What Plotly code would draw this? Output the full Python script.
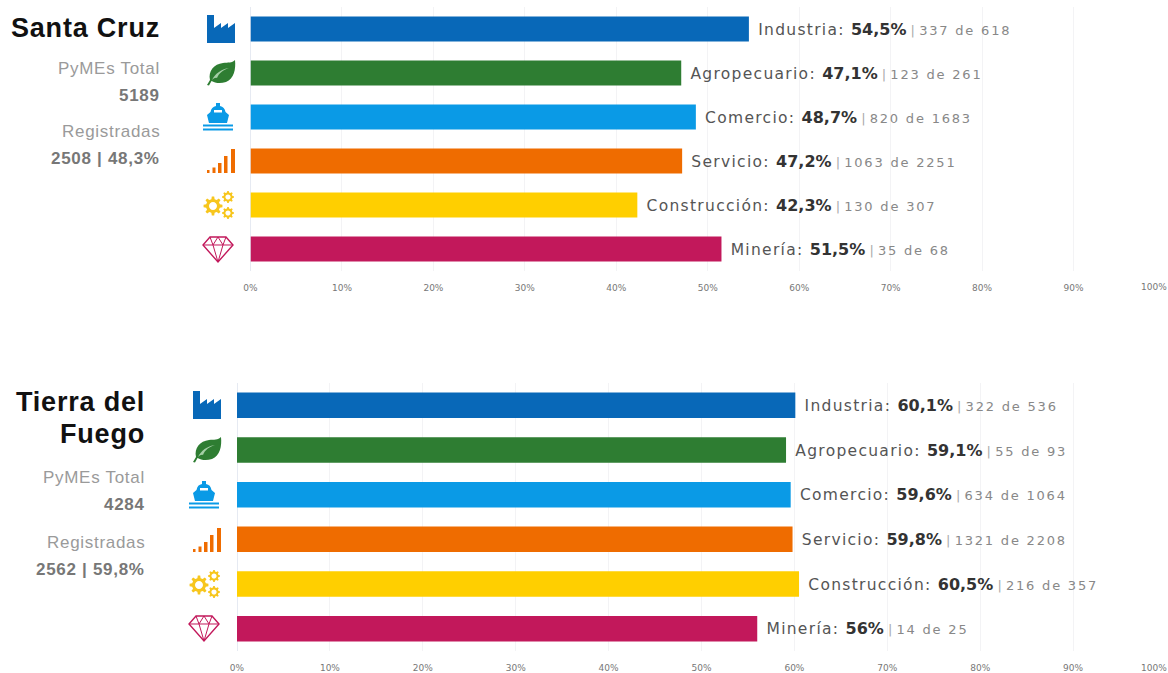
import re, math
import plotly.graph_objects as go

W, H = 1168, 673

categories = ["Industria", "Agropecuario", "Comercio", "Servicio", "Construcción", "Minería"]
colors = ["#0868B8", "#2E7D32", "#0A9AE6", "#EF6C00", "#FFCF00", "#C2185B"]
tick_values = [0, 10, 20, 30, 40, 50, 60, 70, 80, 90]
tick_labels = ["0%", "10%", "20%", "30%", "40%", "50%", "60%", "70%", "80%", "90%"]
last_tick_label = "100%"

sc_pct = [54.5, 47.1, 48.7, 47.2, 42.3, 51.5]
sc_pct_labels = ["54,5%", "47,1%", "48,7%", "47,2%", "42,3%", "51,5%"]
sc_registered = [337, 123, 820, 1063, 130, 35]
sc_total = [618, 261, 1683, 2251, 307, 68]

tf_pct = [60.1, 59.1, 59.6, 59.8, 60.5, 56]
tf_pct_labels = ["60,1%", "59,1%", "59,6%", "59,8%", "60,5%", "56%"]
tf_registered = [322, 55, 634, 1321, 216, 14]
tf_total = [536, 93, 1064, 2208, 357, 25]

def px(x): return x / W
def py(y): return 1 - y / H

def bar_text(name, pct, a, b):
    return (f"<span style='color:#555555;font-size:15.5px;letter-spacing:1.3px'> {name}: </span>"
            f"<b style='color:#333333;font-size:16px'>{pct}</b>"
            f"<span style='color:#aaaaaa;font-size:13px'> | </span>"
            f"<span style='color:#888888;font-size:13px;letter-spacing:1.8px'>{a} de {b}</span>")

fig = go.Figure()
panels = [
    dict(ax="", pct=sc_pct, lab=sc_pct_labels, a=sc_registered, b=sc_total,
         x0=250.5, x1=1165, y0=7, y1=271),
    dict(ax="2", pct=tf_pct, lab=tf_pct_labels, a=tf_registered, b=tf_total,
         x0=237, x1=1166, y0=383, y1=651),
]
for p in panels:
    fig.add_trace(go.Bar(
        x=p["pct"], y=categories, orientation="h",
        marker=dict(color=colors, line=dict(width=0)),
        text=[bar_text(c, l, a, b) for c, l, a, b in zip(categories, p["lab"], p["a"], p["b"])],
        textposition="outside", cliponaxis=False,
        textfont=dict(family="DejaVu Sans", size=15),
        xaxis="x" + p["ax"], yaxis="y" + p["ax"], showlegend=False, hoverinfo="skip",
    ))

axis_common = dict(
    range=[0, 100], tickmode="array", tickvals=tick_values + [100],
    ticktext=tick_labels + [" "],
    tickfont=dict(family="DejaVu Sans", size=9, color="#777777"),
    showgrid=True, gridcolor="#F3F3F5", gridwidth=1,
    zeroline=True, zerolinecolor="#E6EAF2", zerolinewidth=1,
    showline=False, ticks="", ticklabelstandoff=10, automargin=False,
)
y_common = dict(
    autorange="reversed", showticklabels=False, showgrid=False, zeroline=False,
    showline=False, ticks="", automargin=False,
)
layout = dict(
    width=W, height=H, margin=dict(l=0, r=0, t=0, b=0, pad=0, autoexpand=False),
    paper_bgcolor="white", plot_bgcolor="white", bargap=0.43,
    font=dict(family="DejaVu Sans"),
)
for p in panels:
    layout["xaxis" + p["ax"]] = dict(axis_common, domain=[px(p["x0"]), px(p["x1"])],
                                     anchor="y" + p["ax"])
    layout["yaxis" + p["ax"]] = dict(y_common, domain=[py(p["y1"]), py(p["y0"])],
                                     anchor="x" + p["ax"])
fig.update_layout(**layout)

def note(text, x, y, size, color, bold=False, family="Liberation Sans", spacing=0.7):
    body = f"<b>{text}</b>" if bold else text
    fig.add_annotation(text=f"<span style='letter-spacing:{spacing}px'>{body}</span>",
                       x=px(x + 2), y=py(y),
                       xref="paper", yref="paper", xanchor="right", yanchor="middle",
                       showarrow=False, font=dict(family=family, size=size, color=color))

GREY, DARK = "#9A9A9A", "#777777"
note("Santa Cruz", 160, 28, 27, "#111111", True, spacing=0.8)
note("PyMEs Total", 160, 69, 17, GREY)
note("5189", 160, 96, 17, DARK, True)
note("Registradas", 160, 132, 17, GREY)
note("2508 | 48,3%", 160, 158, 17, DARK, True)

note("Tierra del", 145, 402, 27, "#111111", True, spacing=0.8)
note("Fuego", 145, 434, 27, "#111111", True, spacing=0.8)
note("PyMEs Total", 145, 477, 17, GREY)
note("4284", 145, 504, 17, DARK, True)
note("Registradas", 145, 542, 17, GREY)
note("2562 | 59,8%", 145, 569, 17, DARK, True)

note(last_tick_label, 1167, 287, 9, "#777777", family="DejaVu Sans", spacing=0)
note(last_tick_label, 1167, 668, 9, "#777777", family="DejaVu Sans", spacing=0)

# ---- decorative category icons, local pixel coordinates around a centre ----
def to_paper(path, cx, cy):
    def rep(m):
        return f"{px(cx + float(m.group(1))):.5f},{py(cy + float(m.group(2))):.5f}"
    return re.sub(r"(-?[\d.]+),(-?[\d.]+)", rep, path)

def icon(path, cx, cy, fill=None, stroke=None, width=0):
    shape = dict(type="path", xref="paper", yref="paper", path=to_paper(path, cx, cy),
                 line=dict(width=width, color=stroke or "rgba(0,0,0,0)"), layer="above")
    if fill:
        shape["fillcolor"] = fill
    fig.add_shape(**shape)

def circle(cx, cy, r):
    k = 0.552 * r
    return (f"M{cx-r},{cy} C{cx-r},{cy-k} {cx-k},{cy-r} {cx},{cy-r} "
            f"C{cx+k},{cy-r} {cx+r},{cy-k} {cx+r},{cy} "
            f"C{cx+r},{cy+k} {cx+k},{cy+r} {cx},{cy+r} "
            f"C{cx-k},{cy+r} {cx-r},{cy+k} {cx-r},{cy} Z ")

def gear(cx, cy, R, r, hole, teeth=8):
    pts = []
    for i in range(teeth):
        a = 2 * math.pi * i / teeth
        s = 2 * math.pi / teeth
        for f, rad in ((-0.3, r), (-0.16, R), (0.16, R), (0.3, r)):
            pts.append(f"{cx + rad*math.cos(a+f*s):.2f},{cy + rad*math.sin(a+f*s):.2f}")
    return "M" + " L".join(pts) + " Z " + circle(cx, cy, hole)

def draw_icons(cx, c):
    # factory
    icon("M-14,14 L-14,-14 L-7,-14 L-7,-1 L0,-6 L0,-1 L7,-6 L7,-1 L14,-6 L14,14 Z",
         cx, c[0], colors[0])
    # leaf
    icon("M-14,12 L-11,7 C-13,-2 -7,-9 2,-10 C7,-10.5 11,-10 14,-13 C15,-4 13,6 5,9 "
         "C-1,11 -6,10 -9.5,8 L-12,12.5 Z", cx, c[1], colors[1])
    icon("M-9,7 C-6,1 0,-4 8,-5 C2,-3 -2,0 -4,5 C-6,4.5 -7,5.5 -9,7 Z", cx, c[1], "#A5CFA7")
    # ship
    icon("M-5,-14 L-1,-14 L-1,-11 C2,-10.5 4,-8.5 4.5,-5 L8,-2 L6,6 L-12,6 L-14,-2 L-10.5,-5 "
         "C-10,-8.5 -8,-10.5 -5,-11 Z", cx, c[2], colors[2])
    icon("M-7,-7 L1,-7 L1,-4.5 L-7,-4.5 Z", cx, c[2], "white")
    icon("M-18,7.5 L12,7.5 L12,9.5 L-18,9.5 Z", cx, c[2], colors[2])
    icon("M-18,11.5 L12,11.5 L12,13.5 L-18,13.5 Z", cx, c[2], colors[2])
    # signal bars
    for x0, w, top in ((-14, 2.5, 9), (-8.5, 3, 6.5), (-3, 3.5, 2), (3, 3.5, -5), (10, 4, -12)):
        icon(f"M{x0},{top} L{x0+w},{top} L{x0+w},12 L{x0},12 Z", cx, c[3], colors[3])
    # gears
    icon(gear(-8, 1, 9.5, 7, 4), cx, c[4], "#F7C61D")
    icon(gear(7, -8, 6, 4.6, 2.6), cx, c[4], "#F7C61D")
    icon(gear(7, 8, 6, 4.6, 2.6), cx, c[4], "#F7C61D")
    # diamond
    stroke = colors[5]
    icon("M-11,-12 L5,-12 L12,-4 L-3,13 L-18,-4 Z", cx, c[5], None, stroke, 1.4)
    icon("M-18,-4 L12,-4 M-11,-12 L-8,-4 L-3,13 L2,-4 L5,-12 M-8,-4 L-3,-12 L2,-4", cx, c[5], None, stroke, 1)

draw_icons(221, [29, 73, 117, 161, 205, 249])
draw_icons(207, [405, 450, 495, 540, 584, 628])

fig.write_html("out.html", post_script="document.body.style.margin='0';",
               config=dict(displayModeBar=False))
